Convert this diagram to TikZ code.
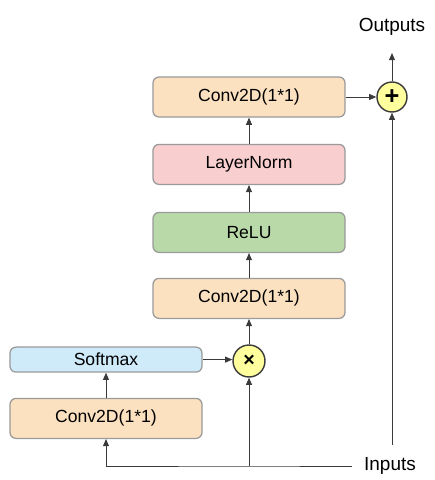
\documentclass[tikz,border=0pt]{standalone}
\usepackage{fontspec}
\setmainfont{Liberation Sans}
\usepackage{tikz}
\usetikzlibrary{positioning,arrows.meta,calc}

\definecolor{convfill}{HTML}{FCE1C0}
\definecolor{normfill}{HTML}{F9CECE}
\definecolor{relufill}{HTML}{B9D9A9}
\definecolor{softfill}{HTML}{CFEAF9}
\definecolor{opfill}{HTML}{FFFF9E}
\definecolor{edgegray}{HTML}{9A9A9A}
\definecolor{linegray}{HTML}{3A3A3A}

\begin{document}
\begin{tikzpicture}[
  every node/.style={font=\fontsize{12.5}{15}\selectfont},
  block/.style={draw=edgegray,line width=0.9pt,rounded corners=0.15cm,align=center,minimum width=4.8cm,minimum height=1cm},
  op/.style={circle,draw=linegray,line width=1pt,fill=opfill,minimum size=0.78cm,inner sep=0pt},
  lbl/.style={font=\fontsize{13.5}{16}\selectfont},
  arrow/.style={-{Triangle[length=1.8mm,width=1.5mm]},draw=linegray,line width=0.6pt}
]
  \useasboundingbox (0,0) rectangle (10.875,-12);
  \node[block,fill=convfill] (convtop) at (6.225,-2.425) {Conv2D(1*1)};
  \node[block,fill=normfill] (norm) at (6.225,-4.11) {LayerNorm};
  \node[block,fill=relufill] (relu) at (6.225,-5.81) {ReLU};
  \node[block,fill=convfill] (convmid) at (6.225,-7.46) {Conv2D(1*1)};
  \node[op,minimum size=0.8cm] (mul) at (6.225,-9.025) {\fontsize{14}{14}\selectfont\textbf{×}};
  \node[block,fill=softfill,minimum height=0.625cm] (soft) at (2.65,-8.99) {Softmax};
  \node[block,fill=convfill] (convlow) at (2.65,-10.46) {Conv2D(1*1)};
  \node[op,minimum size=0.75cm] (add) at (9.8,-2.425) {\fontsize{18}{18}\selectfont\textbf{+}};
  \node[lbl] (out) at (9.8,-0.675) {Outputs};
  \node[lbl,inner sep=0.3cm] (in) at (9.75,-11.65) {Inputs};
  \coordinate (split) at (mul |- in.west);
  \draw[arrow] (in.west) -- (split) -| (convlow.south);
  \draw[arrow] (split) -- (mul);
  \draw[arrow] (convlow) -- (soft);
  \draw[arrow] (soft) -- (soft -| mul.west);
  \draw[arrow] (mul) -- (convmid);
  \draw[arrow] (convmid) -- (relu);
  \draw[arrow] (relu) -- (norm);
  \draw[arrow] (norm) -- (convtop);
  \draw[arrow] (convtop) -- (add);
  \draw[arrow] (in.north -| add) -- (add);
  \draw[arrow] (add) -- ++(0,1.1);
\end{tikzpicture}
\end{document}
